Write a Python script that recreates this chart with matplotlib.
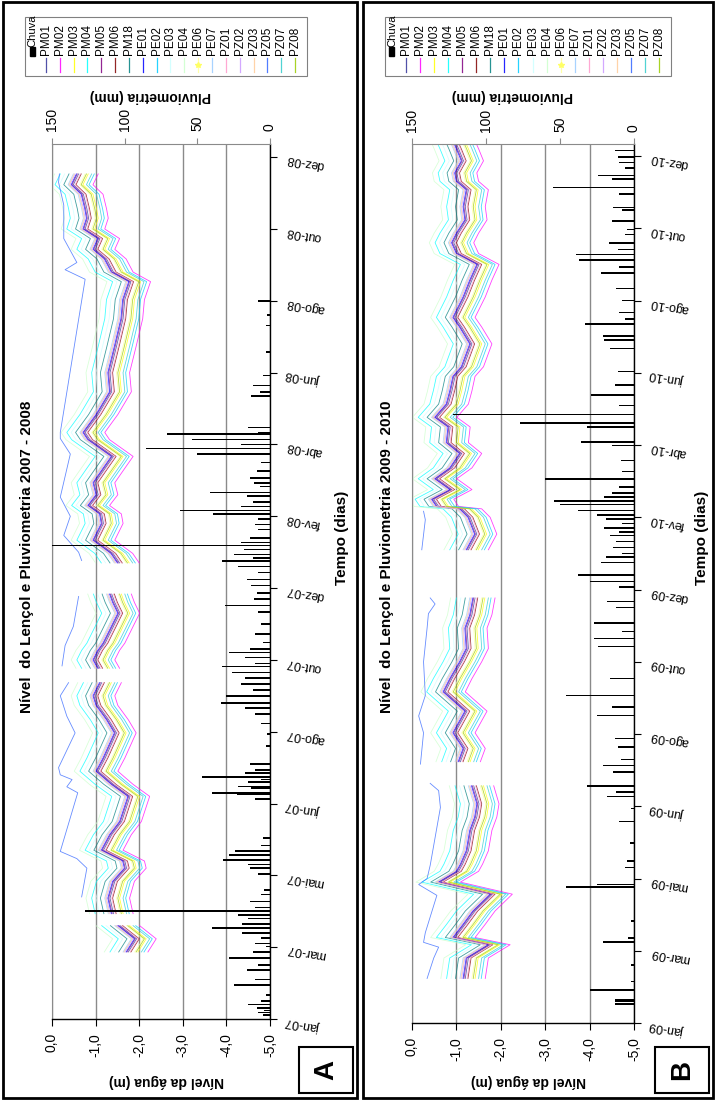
import numpy as np
import matplotlib
matplotlib.use('Agg')
import matplotlib.pyplot as plt
from matplotlib.lines import Line2D
from matplotlib.patches import Rectangle

plt.rcParams['font.family'] = ['Liberation Sans', 'DejaVu Sans']

nan = np.nan

# --- data ---

wells = ['PM01', 'PM02', 'PM03', 'PM04', 'PM05', 'PM06', 'PM18', 'PE01', 'PE02', 'PE03',
         'PE04', 'PE06', 'PE07', 'PZ01', 'PZ02', 'PZ03', 'PZ05', 'PZ07', 'PZ08']
colors = ['#333399', '#FF00FF', '#FFFF00', '#00FFFF', '#800080', '#800000', '#008080', '#0000FF',
          '#00CCFF', '#CCFFFF', '#CCFFCC', '#FFFF99', '#99CCFF', '#FF99CC', '#CC99FF', '#FFCC99',
          '#3366FF', '#33CCCC', '#99CC00']
# depth of each well relative to PM01 (m, + = shallower); PZ05 has its own series
offsets = [0.00, -0.45, -0.22, 0.42, 0.03, -0.06, 0.22, 0.05, -0.36, 0.32,
           0.55, -0.15, 0.12, -0.04, 0.08, 0.10, None, -0.30, -0.18]

level_ticks = [0, -1, -2, -3, -4, -5]
level_labels = ['0,0', '-1,0', '-2,0', '-3,0', '-4,0', '-5,0']
rain_ticks = [150, 100, 50, 0]
date_ticks = list(range(0, 721, 60))
date_labels_a = ['jan-07', 'mar-07', 'mai-07', 'jun-07', 'ago-07', 'out-07', 'dez-07',
                 'fev-08', 'abr-08', 'jun-08', 'ago-08', 'out-08', 'dez-08']
date_labels_b = ['jan-09', 'mar-09', 'mai-09', 'jun-09', 'ago-09', 'out-09', 'dez-09',
                 'fev-10', 'abr-10', 'jun-10', 'ago-10', 'out-10', 'dez-10']

# 2007-2008, days since 1 jan 2007
days_a = [56, 67, 78, 82, 88, 101, 115, 126, 132, 141, 154, 165, 186, 196, 207, 218, 239, 250, 262,
          270, 281, 287, 293, 300, 308, 314, 325, 339, 348, 355, 368, 381, 389, 400, 414, 422, 429,
          438, 448, 458, 470, 484, 490, 505, 524, 540, 562, 585, 601, 616, 624, 635, 643, 652, 660,
          669, 677, 689, 697, 706]
pm01_a = [-1.75, -1.94, -1.56, nan, -1.41, -1.33, -1.44, -1.71, -1.67, -1.18, -1.37, -1.60, -1.79,
          -1.41, -1.06, -1.22, -1.48, -1.30, -1.06, -0.99, -1.14, nan, -1.10, -0.99, -1.10, -1.22,
          -1.37, -1.56, -1.44, -1.37, nan, -1.55, -1.40, -0.99, -1.18, -1.14, -0.87, -1.06, -0.99,
          -1.18, -1.41, -0.87, -0.76, -1.06, -1.37, -1.33, -1.48, -1.63, -1.67, -1.81, -1.41, -1.25,
          -0.99, -1.10, -0.76, -0.84, -0.80, -0.72, -0.49, -0.61]
pz05_days_a = [102, 126, 134, 140, 189, 194, 200, 204, 210, 239, 253, 270, 281, 287, 295, 312, 328,
               353, 368, 383, 390, 404, 420, 436, 472, 485, 490, 618, 626, 632, 652, 680, 699, 706]
pz05_a = [-0.68, -0.80, -0.57, -0.19, -0.59, -0.34, -0.46, -0.19, -0.15, -0.53, -0.34, -0.19, -0.38,
          nan, -0.23, -0.30, -0.49, -0.61, nan, -0.68, -0.61, -0.27, -0.42, -0.19, -0.42, -0.19,
          -0.19, -0.76, -0.30, -0.57, -0.27, -0.27, -0.15, -0.17]
rain_days_a = [3.5, 5.5, 7, 9, 12, 15, 20, 28.5, 33, 41, 45, 51, 56, 60.5, 63, 67.5, 72, 76, 79.5, 84,
               87, 90, 93, 98, 104, 108, 121, 126, 129, 133, 137, 140.5, 145, 151, 184, 188, 189,
               193, 194.4, 198, 200, 202, 205.6, 208, 213, 228, 238, 247, 255, 260, 264, 270, 275,
               280, 285, 289.5, 294.5, 297, 302, 306, 309, 314.5, 321.5, 330, 340, 345.5, 351, 356,
               362, 367, 373, 378, 382.7, 385, 388, 392.4, 395.5, 398, 402, 409, 413, 417.5, 421.7,
               425, 428, 432, 437, 440, 445, 448, 452, 458, 465, 472, 476.7, 480, 484, 488.7, 490,
               494, 520.4, 523.6, 529.3, 537.7, 557, 579.4, 588, 599.7]
rain_a = [5, 8, 4, 9, 15, 6, 3, 25, 10, 16, 8, 28, 12, 3, 10, 6, 19, 40, 19, 15,
          22, 127, 10, 14, 6, 4, 8, 14, 15, 32, 28, 24, 6, 5, 10, 23, 40,
          13, 22, 15, 6, 47, 17, 10, 14, 3, 2, 6, 10, 17, 34, 30, 12,
          20, 17, 26, 33, 10, 17, 28, 14, 5, 10, 6, 8, 31, 11, 9,
          13, 16, 8, 22, 33, 12, 25, 18, 160, 20, 14, 8, 10, 8, 39,
          62, 20, 12, 16, 41, 7, 11, 14, 9, 6, 50, 85, 20, 54, 71, 8,
          15, 13, 7, 12, 5, 3, 3, 2, 8]

# 2009-2010, days since 1 jan 2009
days_b = [37, 54, 65, 71, 82, 93, 107, 117, 126, 132, 143, 160, 171, 182, 197, 207, 217, 228, 241,
          259, 275, 286, 300, 311, 328, 339, 353, 372, 393, 406, 420, 427, 429, 435, 443, 452, 461,
          473, 482, 495, 503, 514, 525, 537, 545, 564, 578, 586, 603, 617, 630, 639, 648, 656, 667,
          678, 692, 699, 706, 716, 726, 735]
pm01_b = [-1.20, -1.27, -1.76, -0.97, -1.20, -1.42, -1.81, -0.64, -1.05, -1.14, -1.27, -1.35, -1.46,
          -1.51, -1.39, nan, -1.09, -1.20, -0.97, -1.24, -0.75, -0.90, -1.12, -1.27, -1.24, -1.35,
          -1.42, nan, -1.27, -1.46, -1.31, -1.12, -0.60, -0.49, -0.90, -0.56, -0.90, -1.12, -0.82,
          -0.86, -0.56, -0.82, -0.90, -0.97, -1.16, -1.35, -1.12, -0.97, -1.20, -1.35, -1.51, -1.05,
          -0.94, -1.05, -1.24, -1.20, -1.27, -1.05, -1.01, -1.16, -1.05, -0.94]
pz05_days_b = [37, 54, 63, 67, 75, 106, 115, 120, 131, 179, 193, 199, 207, 215, 241, 255, 272, 300,
               328, 340, 348, 353, 372, 393, 418, 425]
pz05_b = [-0.34, -0.49, -0.60, -0.26, -0.30, -0.56, -0.15, -0.34, -0.41, -0.64, -0.60, -0.41, nan,
          -0.19, -0.26, -0.15, -0.30, -0.26, -0.34, -0.37, -0.52, -0.41, nan, -0.22, -0.30, -0.26]
rain_days_b = [16, 17.8, 19, 27.6, 34.5, 48, 67.3, 70.6, 84.6, 113, 115.2, 129, 134.6, 149.4, 167.5,
               178, 188, 191.7, 197, 208.4, 214, 219, 229.3, 236.2, 255.4, 262.4, 272, 286, 312.6,
               319.5, 325, 332, 345, 350, 362, 366.6, 372, 382.6, 386.8, 390, 395, 400, 404.9, 408,
               411.3, 415, 418.8, 422, 425.8, 430.5, 433.3, 437, 440, 445, 452, 458, 467, 479.7,
               482.5, 495, 498.4, 505.3, 513, 521.4, 529.8, 541, 560.3, 567.3, 570.6, 580.4, 584.6,
               590, 600, 610, 623, 628, 633.6, 638.3, 642.5, 648, 655, 659, 666, 675, 677.2, 688.3,
               694, 700.9, 703.7, 710, 714.8, 719, 724.5, 732.9]
rain_b = [13, 13, 13, 30, 2, 2, 21, 4, 2, 46, 25, 6, 5, 3, 10,
          2, 18, 12, 32, 14, 21, 9, 11, 13, 25, 15, 46, 16, 24,
          27, 8, 27, 12, 18, 10, 30, 38, 22, 19, 8, 14, 12, 16, 10,
          20, 8, 19, 25, 38, 50, 54, 20, 15, 10, 60, 8, 9, 15,
          36, 32, 77, 122, 10, 29, 13, 11, 16, 20, 21, 33, 6,
          10, 8, 12, 22, 10, 37, 39, 11, 17, 6, 5, 15, 8, 14, 10,
          55, 15, 24, 6, 10, 11, 13, 2]

# --- plot ---

W, H = 717, 1103
fig = plt.figure(figsize=(W / 100, H / 100), dpi=100)


def fx(x):
    return x / W


def fy(y):
    return 1 - y / H


def panel(box, frame, days, pm01, pz05_days, pz05, rain_days, rain, date_labels, year_span, letter, n_days):
    x0, x1, y0, y1 = box
    ax = fig.add_axes([fx(x0), fy(y1), (x1 - x0) / W, (y1 - y0) / H])
    axr = ax.twiny()

    # water levels
    for name, c, off in zip(wells, colors, offsets):
        if off is None:
            ax.plot(pz05, pz05_days, color=c, lw=0.6, alpha=0.75)
        else:
            ax.plot(np.array(pm01) + off, days, color=c, lw=0.6, alpha=0.75)

    ax.set_xlim(0, -5)
    ax.set_ylim(0, n_days)
    ax.set_xticks(level_ticks)
    ax.set_xticklabels(level_labels)
    ax.xaxis.grid(True, color='#8a8a8a', lw=1.0)
    ax.tick_params(axis='x', direction='out', length=5, width=0.8, pad=5, labelsize=10,
                   labelrotation=90)
    ax.yaxis.tick_right()
    ax.set_yticks(date_ticks)
    ax.set_yticklabels(date_labels, rotation=170)
    ax.tick_params(axis='y', direction='out', length=5, width=0.8, pad=6, labelsize=9)
    for s in ['left', 'top']:
        ax.spines[s].set_color('#8a8a8a')
    for s in ['right', 'bottom']:
        ax.spines[s].set_color('black')
        ax.spines[s].set_linewidth(1.0)

    # rainfall
    axr.barh(rain_days, rain, height=1.3, color='black', lw=0)
    axr.set_xlim(150, 0)
    axr.set_xticks(rain_ticks)
    axr.set_xticklabels([str(v) for v in rain_ticks])
    axr.tick_params(axis='x', direction='out', length=4, color='#8a8a8a', pad=5, labelsize=10,
                    labelrotation=90)
    for s in axr.spines.values():
        s.set_visible(False)

    # texts
    fx0, fx1 = frame
    cx = (x0 + x1) / 2
    fig.text(fx(fx0 + 24), fy(557), 'Nível  do Lençol e Pluviometria ' + year_span, rotation=90,
             ha='center', va='center', fontsize=11, fontweight='bold')
    fig.text(fx(fx0 + 339), fy(538), 'Tempo (dias)', rotation=90, ha='center', va='center',
             fontsize=11, fontweight='bold')
    fig.text(fx(cx - 11), fy(96), 'Pluviometria (mm)', rotation=180, ha='center', va='center',
             fontsize=10, fontweight='bold')
    fig.text(fx(cx + 5), fy(1081), 'Nível da água (m)', rotation=180, ha='center', va='center',
             fontsize=10, fontweight='bold')

    # legend
    lx0, lx1 = fx0 + 22, x1 + 37
    fig.add_artist(Rectangle((fx(lx0), fy(76)), (lx1 - lx0) / W, 59 / H, transform=fig.transFigure,
                             fill=False, ec='#808080', lw=0.8))
    step = (lx1 - lx0 - 12) / 19.5
    for i, name in enumerate(['Chuva'] + wells):
        x = lx0 + 7 + i * step
        if name == 'Chuva':
            fig.add_artist(Rectangle((fx(x - 2.5), fy(56)), 5 / W, 9 / H, transform=fig.transFigure,
                                     color='black'))
            fig.text(fx(x), fy(47), name, rotation=90, ha='center', va='bottom', fontsize=8)
        else:
            c = colors[i - 1]
            fig.add_artist(Line2D([fx(x), fx(x)], [fy(58), fy(72)], transform=fig.transFigure,
                                  color=c, lw=0.9, alpha=0.85))
            if name == 'PE06':
                fig.add_artist(Line2D([fx(x)], [fy(65)], transform=fig.transFigure, marker='*',
                                      ms=4, color='#FFFF66', lw=0))
            fig.text(fx(x), fy(55), name, rotation=90, ha='center', va='bottom', fontsize=8.5)

    # frame and letter
    fig.add_artist(Rectangle((fx(fx0), fy(1098)), (fx1 - fx0) / W, 1096 / H,
                             transform=fig.transFigure, fill=False, ec='black', lw=2))
    bx0 = fx1 - 58
    fig.add_artist(Rectangle((fx(bx0), fy(1093)), 54 / W, 46 / H, transform=fig.transFigure,
                             fill=False, ec='black', lw=1.5))
    fig.text(fx(bx0 + 27), fy(1070), letter, rotation=90, ha='center', va='center', fontsize=20,
             fontweight='bold')


panel((52, 270, 144, 1019), (3, 357), days_a, pm01_a, pz05_days_a, pz05_a, rain_days_a, rain_a,
      date_labels_a, '2007 - 2008', 'A', 731)
panel((412, 634, 144, 1023), (363, 713), days_b, pm01_b, pz05_days_b, pz05_b, rain_days_b, rain_b,
      date_labels_b, '2009 - 2010', 'B', 730)

plt.savefig('out.png', dpi=100)
plt.close()
